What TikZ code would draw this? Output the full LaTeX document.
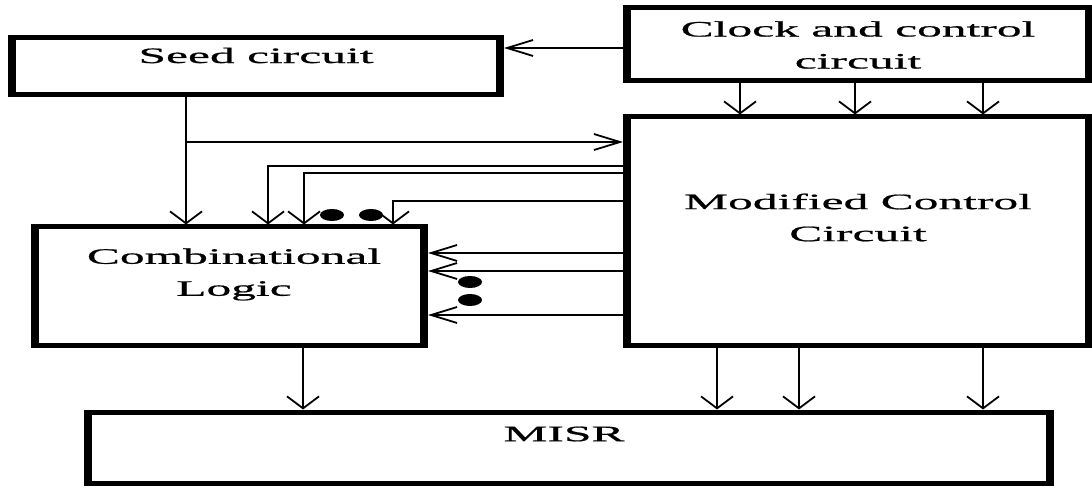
\documentclass[tikz,border=0pt]{standalone}
\usepackage{fontspec}
\setmainfont[FakeStretch=2.25,FakeBold=0.8]{Liberation Serif}
\usepackage{tikz}
\usetikzlibrary{arrows.meta}

\begin{document}
\begin{tikzpicture}[
  x=1pt,y=-1pt,
  box/.style={draw=black,line width=5pt,inner sep=0pt,outer xsep=4pt,outer ysep=2.5pt,
              append after command={
                ([xshift=4pt]\tikzlastnode.north west) edge[line width=8pt] ([xshift=4pt]\tikzlastnode.south west)
                ([xshift=-4pt]\tikzlastnode.north east) edge[line width=8pt] ([xshift=-4pt]\tikzlastnode.south east)}},
  txt/.style={align=center,inner sep=0pt,font=\fontsize{22}{32}\selectfont},
  harrow/.style={-{Straight Barb[length=26pt,width=16pt]},line width=1.8pt},
  varrow/.style={-{Straight Barb[length=12pt,width=32pt]},line width=1.8pt}
]
\useasboundingbox (0,0) rectangle (1092,486);
\node[box,minimum width=488pt,minimum height=57pt] (seed) at (256,66.5) {};
\node[box,minimum width=462pt,minimum height=73pt] (clock) at (858,44.5) {};
\node[box,minimum width=462pt,minimum height=228pt] (modc) at (858,231) {};
\node[box,minimum width=389pt,minimum height=118pt] (comb) at (229.5,286) {};
\node[box,minimum width=962pt,minimum height=71pt] (misr) at (569,447.5) {};
\node[txt] (seedtxt) at (256,55.5) {Seed circuit};
\node[txt] (clocktxt) at (858,45) {Clock and control\\circuit};
\node[txt] (modctxt) at (858,217.5) {Modified Control\\Circuit};
\node[txt] (combtxt) at (234,274.5) {Combinational\\Logic};
\node[txt] (misrtxt) at (564,434) {MISR};
\coordinate (split) at (186,142);
% clock and seed
\draw[harrow] ([yshift=-3.5pt]clock.west) -- ([yshift=-3.5pt]clock.west -| seed.east);
\foreach \x in {740,855,983} \draw[varrow] (clock.south -| \x,0) -- (modc.north -| \x,0);
\draw[varrow] (seed.south -| split) -- (comb.north -| split);
\draw[harrow] (split) -- (split -| modc.west);
% control lines into the logic
\foreach \x/\y in {268/166,304/173,393/201} \draw[varrow] (modc.west |- 0,\y) -| (comb.north -| \x,0);
\foreach \y in {253,271,315} \draw[harrow] (modc.west |- 0,\y) -- (comb.east |- 0,\y);
\foreach \x/\y in {332/215,371/215,470/282,470/300} \fill (\x,\y) ellipse (12pt and 6pt);
% outputs to MISR
\draw[varrow] (comb.south -| 303,0) -- (misr.north -| 303,0);
\foreach \x in {717,799,983} \draw[varrow] (modc.south -| \x,0) -- (misr.north -| \x,0);
\end{tikzpicture}
\end{document}
